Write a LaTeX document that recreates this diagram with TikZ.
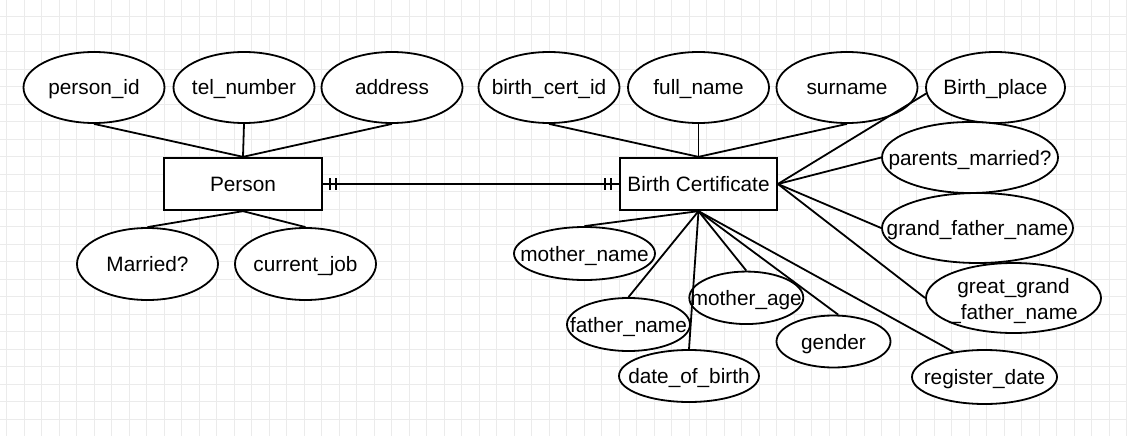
\documentclass[tikz,border=0pt]{standalone}
\usepackage{fontspec}
\setmainfont{Liberation Sans}
\usetikzlibrary{shapes.geometric}
\tikzset{
  gridline/.style={draw=black!8, line width=1pt},
  txt/.style={font=\fontsize{20.8}{25}\selectfont, text height=15pt, text depth=0pt, inner sep=0pt},
  ent/.style={draw, fill=white, rectangle, line width=1.8pt, inner sep=0pt,
    minimum width=#1, minimum height=52.5pt, txt},
  attr/.style n args={3}{ellipse, draw, fill=white, line width=1.8pt, inner sep=0pt,
    minimum width=#1, minimum height=#2, label={[txt]center:#3}},
  blank/.style 2 args={ellipse, draw, fill=white, line width=1.8pt, inner sep=0pt,
    minimum width=#1, minimum height=#2},
  conn/.style={draw, line width=1.8pt},
  tick/.style={draw, line width=1.8pt}
}
\begin{document}
\begin{tikzpicture}[x=1pt,y=-1pt]
\useasboundingbox (0,0) rectangle (1127,436);
\fill[white] (0,0) rectangle (1127,436);
\foreach \i in {0,...,64} \draw[gridline] ({6.8+17.5*\i},0) -- ({6.8+17.5*\i},436);
\foreach \j in {0,...,23} \draw[gridline] (0,{16.7+17.5*\j}) -- (1127,{16.7+17.5*\j});

% entities
\node[ent=158pt] (person) at (243,184) {Person};
\node[ent=157pt] (bc) at (698.5,184) {Birth Certificate};

% person attributes
\node[attr={141pt}{71pt}{person\_id}] (pid) at (94,87.5) {};
\node[attr={141pt}{71pt}{tel\_number}] (tel) at (244,87.5) {};
\node[attr={141pt}{71pt}{address}] (addr) at (392,87.5) {};
\node[attr={141pt}{72pt}{Married?}] (mar) at (147.5,264) {};
\node[attr={141pt}{72pt}{current\_job}] (job) at (305.5,264) {};

% birth certificate attributes
\node[attr={141pt}{71pt}{birth\_cert\_id}] (bcid) at (549,87.5) {};
\node[attr={141pt}{71pt}{full\_name}] (fname) at (698.5,87.5) {};
\node[attr={141pt}{71pt}{surname}] (sname) at (847,87.5) {};
\node[attr={139pt}{71pt}{Birth\_place}] (bplace) at (995.5,87.5) {};
\node[attr={176pt}{71pt}{parents\_married?}] (pm) at (970,157.5) {};
\node[attr={191pt}{70pt}{grand\_father\_name}] (gf) at (977.5,228) {};
\node[blank={175pt}{70pt}] (gg) at (1013.5,298) {};
\node[txt] (ggt1) at (1013.5,285.5) {great\_grand};
\node[txt] (ggt2) at (1013.5,311.5) {\_father\_name};
\node[attr={145pt}{54pt}{register\_date}] (rd) at (984.5,377) {};
\node[attr={141pt}{53pt}{mother\_name}] (mn) at (584.5,253.5) {};
\node[attr={123pt}{53pt}{father\_name}] (fn) at (628.5,324.5) {};
\node[attr={114pt}{52.5pt}{mother\_age}] (ma) at (746.3,297.8) {};
\node[attr={114pt}{52pt}{gender}] (gen) at (833.5,341.5) {};
\node[attr={140pt}{52pt}{date\_of\_birth}] (dob) at (689,376) {};

% connectors: person
\draw[conn] (pid.south) -- (person.north);
\draw[conn] (tel.south) -- (person.north);
\draw[conn] (addr.south) -- (person.north);
\draw[conn] (person.south) -- (mar.north);
\draw[conn] (person.south) -- (job.north);

% relationship
\draw[conn] (person.east) -- (bc.west);
\draw[tick] ([xshift=7pt,yshift=6pt]person.east) -- ([xshift=7pt,yshift=-6pt]person.east);
\draw[tick] ([xshift=13pt,yshift=6pt]person.east) -- ([xshift=13pt,yshift=-6pt]person.east);
\draw[tick] ([xshift=-8pt,yshift=6pt]bc.west) -- ([xshift=-8pt,yshift=-6pt]bc.west);
\draw[tick] ([xshift=-14pt,yshift=6pt]bc.west) -- ([xshift=-14pt,yshift=-6pt]bc.west);

% connectors: birth certificate
\draw[conn] (bcid.south) -- (bc.north);
\draw[conn] (fname.south) -- (bc.north);
\draw[conn] (sname.south) -- (bc.north);
\draw[conn] (bc.east) -- (bplace.185);
\draw[conn] (bc.east) -- (pm.west);
\draw[conn] (bc.east) -- (gf.west);
\draw[conn] (bc.east) -- (gg.west);
\draw[conn] (bc.south) -- (mn.north);
\draw[conn] (bc.south) -- (fn.north);
\draw[conn] (bc.south) -- (dob.north);
\draw[conn] (bc.south) -- (ma.north);
\draw[conn] (bc.south) -- (gen.80);
\draw[conn] (bc.south) -- (rd.141);
\end{tikzpicture}
\end{document}
